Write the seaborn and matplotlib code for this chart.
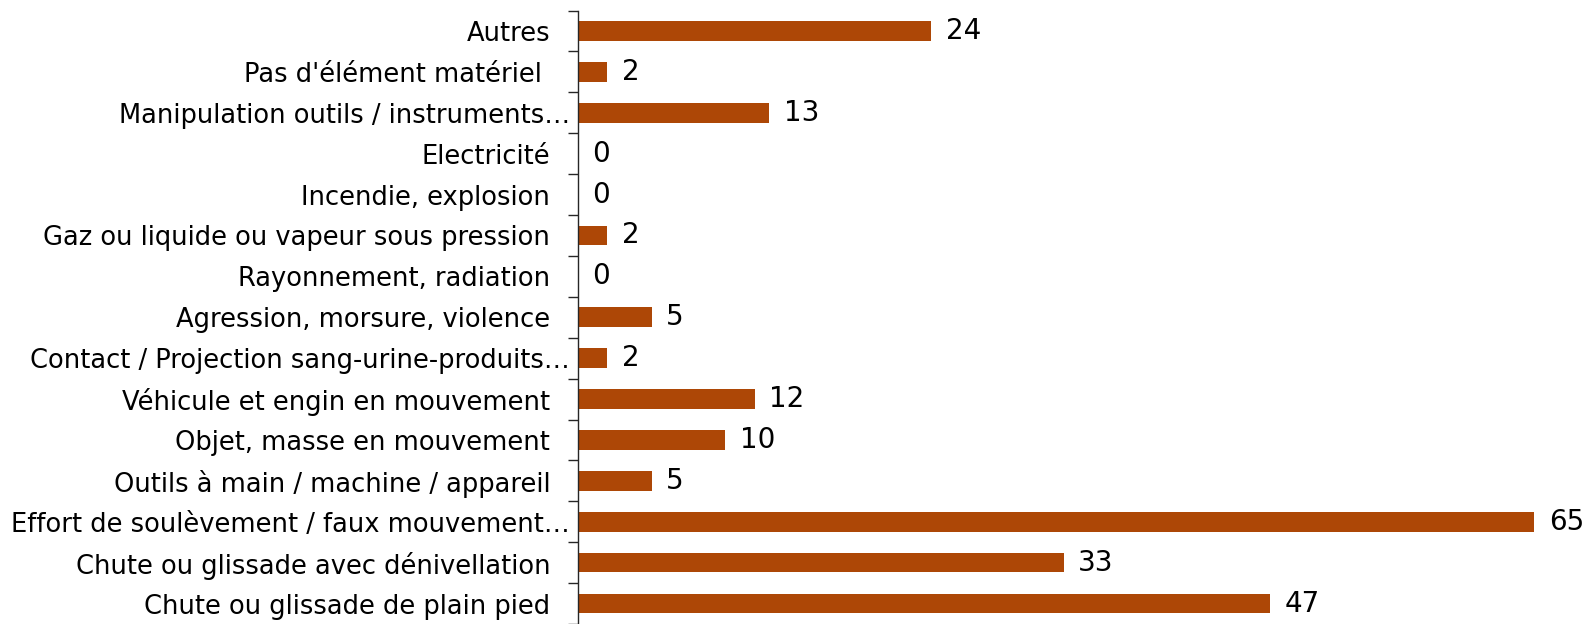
import matplotlib
matplotlib.use("Agg")
import numpy as np
import pandas as pd
import matplotlib.pyplot as plt
import matplotlib.transforms as mtransforms
import seaborn as sns

categories = [
    "Autres",
    "Pas d'élément matériel ",
    "Manipulation outils / instruments…",
    "Electricité",
    "Incendie, explosion",
    "Gaz ou liquide ou vapeur sous pression",
    "Rayonnement, radiation",
    "Agression, morsure, violence",
    "Contact / Projection sang-urine-produits…",
    "Véhicule et engin en mouvement",
    "Objet, masse en mouvement",
    "Outils à main / machine / appareil",
    "Effort de soulèvement / faux mouvement…",
    "Chute ou glissade avec dénivellation",
    "Chute ou glissade de plain pied",
]
values = [24, 2, 13, 0, 0, 2, 0, 5, 2, 12, 10, 5, 65, 33, 47]

df = pd.DataFrame({"categorie": categories, "nombre": values})

sns.set_style("white")
plt.rcParams["font.family"] = ["DejaVu Sans"]

fig = plt.figure(figsize=(15.83, 6.24), dpi=100)
ax = fig.add_axes([578 / 1583, 0.0, 1 - 578 / 1583, (624 - 10.5) / 624])

sns.barplot(data=df, x="nombre", y="categorie", color="#AD4706", width=0.48,
            saturation=1, linewidth=0, ax=ax)

for i, v in enumerate(values):
    ax.annotate(str(v), xy=(v, i), xytext=(10.5, 0), textcoords="offset points",
                ha="left", va="center", fontsize=20, color="black")

ax.set_xlim(0, 68.3)
ax.set_ylim(len(categories) - 0.5, -0.5)
ax.set_xlabel("")
ax.set_ylabel("")
ax.set_xticks([])

for s in ["top", "right", "bottom"]:
    ax.spines[s].set_visible(False)
ax.spines["left"].set_color("#262626")
ax.spines["left"].set_linewidth(1.0)

ax.set_yticks(np.arange(len(categories) + 1) - 0.5, minor=True)
ax.tick_params(axis="y", which="minor", left=True, length=7, width=1,
               color="#262626", direction="out")
ax.tick_params(axis="y", which="major", left=False, length=0, pad=20,
               labelsize=18.5, labelcolor="black")

# les libellés tronqués sont plus proches de l'axe
shift = mtransforms.ScaledTranslation(0.2, 0, fig.dpi_scale_trans)
for lab in ax.get_yticklabels():
    if lab.get_text().endswith("…"):
        lab.set_transform(lab.get_transform() + shift)

fig.savefig("out.png", dpi=100)
